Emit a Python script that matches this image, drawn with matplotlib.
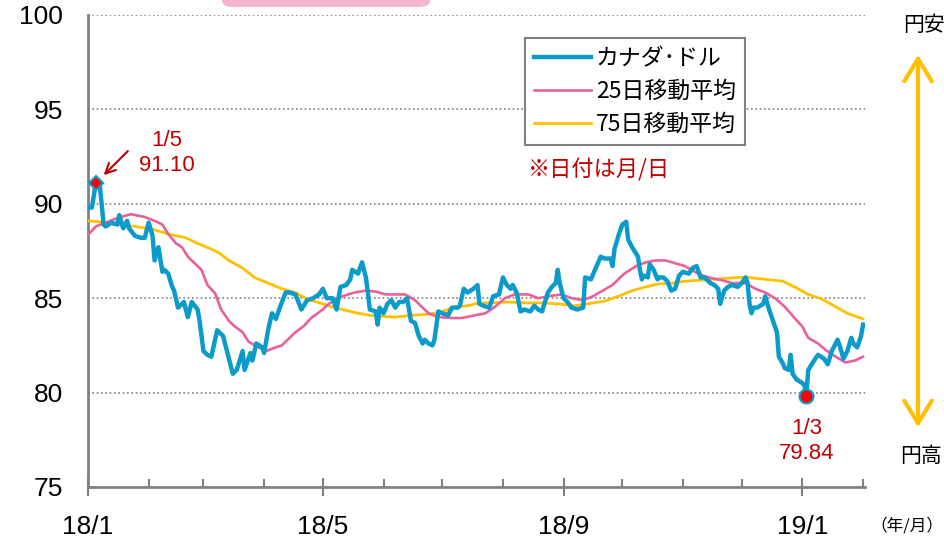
import numpy as np
import pandas as pd
import matplotlib
matplotlib.use("Agg")
import matplotlib.pyplot as plt
import matplotlib.dates as mdates
from matplotlib.patches import FancyArrowPatch, FancyBboxPatch

plt.rcParams['font.family'] = ['Liberation Sans', 'Noto Sans CJK JP']

# カナダ・ドル (円/カナダドル)
price_dates = [
    "2018-01-01", "2018-01-03", "2018-01-05", "2018-01-07", "2018-01-09", "2018-01-10",
    "2018-01-13", "2018-01-16", "2018-01-17", "2018-01-19", "2018-01-21", "2018-01-22",
    "2018-01-25", "2018-01-28", "2018-01-30", "2018-02-01", "2018-02-03", "2018-02-04",
    "2018-02-06", "2018-02-08", "2018-02-09", "2018-02-11", "2018-02-13", "2018-02-14",
    "2018-02-16", "2018-02-19", "2018-02-21", "2018-02-23", "2018-02-26", "2018-02-27",
    "2018-03-01", "2018-03-03", "2018-03-05", "2018-03-08", "2018-03-11", "2018-03-13",
    "2018-03-16", "2018-03-18", "2018-03-21", "2018-03-22", "2018-03-25", "2018-03-26",
    "2018-03-28", "2018-03-31", "2018-04-01", "2018-04-03", "2018-04-05", "2018-04-07",
    "2018-04-09", "2018-04-12", "2018-04-14", "2018-04-17", "2018-04-20", "2018-04-23",
    "2018-04-26", "2018-04-29", "2018-05-01", "2018-05-03", "2018-05-06", "2018-05-08",
    "2018-05-10", "2018-05-13", "2018-05-15", "2018-05-16", "2018-05-19", "2018-05-21",
    "2018-05-23", "2018-05-24", "2018-05-25", "2018-05-28", "2018-05-29", "2018-05-30",
    "2018-06-01", "2018-06-03", "2018-06-05", "2018-06-07", "2018-06-09", "2018-06-11",
    "2018-06-13", "2018-06-15", "2018-06-17", "2018-06-19", "2018-06-21", "2018-06-22",
    "2018-06-24", "2018-06-26", "2018-06-27", "2018-06-29", "2018-07-01", "2018-07-04",
    "2018-07-06", "2018-07-09", "2018-07-10", "2018-07-12", "2018-07-14", "2018-07-17",
    "2018-07-19", "2018-07-20", "2018-07-22", "2018-07-25", "2018-07-27", "2018-07-30",
    "2018-08-01", "2018-08-03", "2018-08-05", "2018-08-06", "2018-08-08", "2018-08-10",
    "2018-08-12", "2018-08-15", "2018-08-17", "2018-08-19", "2018-08-21", "2018-08-24",
    "2018-08-26", "2018-08-28", "2018-08-29", "2018-08-30", "2018-09-01", "2018-09-03",
    "2018-09-05", "2018-09-08", "2018-09-11", "2018-09-12", "2018-09-15", "2018-09-17",
    "2018-09-20", "2018-09-22", "2018-09-25", "2018-09-26", "2018-09-27", "2018-09-29",
    "2018-10-01", "2018-10-03", "2018-10-04", "2018-10-06", "2018-10-09", "2018-10-10",
    "2018-10-11", "2018-10-12", "2018-10-14", "2018-10-15", "2018-10-17", "2018-10-19",
    "2018-10-20", "2018-10-22", "2018-10-24", "2018-10-26", "2018-10-28", "2018-10-30",
    "2018-11-01", "2018-11-04", "2018-11-06", "2018-11-08", "2018-11-10", "2018-11-12",
    "2018-11-15", "2018-11-17", "2018-11-19", "2018-11-20", "2018-11-22", "2018-11-24",
    "2018-11-26", "2018-11-29", "2018-12-01", "2018-12-03", "2018-12-04", "2018-12-05",
    "2018-12-06", "2018-12-07", "2018-12-09", "2018-12-12", "2018-12-13", "2018-12-15",
    "2018-12-17", "2018-12-19", "2018-12-20", "2018-12-22", "2018-12-23", "2018-12-25",
    "2018-12-26", "2018-12-27", "2018-12-29", "2019-01-01", "2019-01-02", "2019-01-03",
    "2019-01-04", "2019-01-07", "2019-01-09", "2019-01-12", "2019-01-14", "2019-01-16",
    "2019-01-19", "2019-01-20", "2019-01-22", "2019-01-24", "2019-01-26", "2019-01-27",
    "2019-01-29", "2019-01-31", "2019-02-01",
]
price_values = [
    89.8, 89.8, 91.10, 91.0, 88.9, 88.8,
    89.0, 88.9, 89.4, 88.7, 89.1, 88.7,
    88.3, 88.2, 88.2, 89.0, 88.3, 87.0,
    87.7, 86.4, 86.5, 86.3, 85.6, 85.4,
    84.5, 84.8, 84.0, 84.8, 84.4, 83.8,
    82.2, 82.0, 81.9, 83.3, 83.0, 82.2,
    81.0, 81.2, 82.2, 81.2, 82.1, 81.7,
    82.6, 82.4, 82.1, 83.3, 84.2, 83.9,
    84.5, 85.3, 85.3, 85.2, 84.4, 84.9,
    85.0, 85.2, 85.5, 85.0, 85.0, 84.4,
    85.6, 85.7, 86.0, 86.5, 86.3, 86.9,
    86.1, 85.3, 84.4, 84.3, 83.6, 84.5,
    84.2, 84.7, 84.9, 84.5, 84.8, 84.8,
    85.0, 83.8, 83.7, 83.0, 82.6, 82.8,
    82.6, 82.5, 82.8, 84.3, 84.2, 84.1,
    84.5, 84.5, 84.6, 85.5, 85.3, 85.5,
    85.7, 84.7, 84.6, 84.5, 85.1, 85.2,
    86.1, 85.7, 85.5, 85.7, 85.3, 84.3,
    84.4, 84.3, 84.6, 84.4, 84.3, 85.3,
    85.6, 85.8, 86.5, 85.8, 85.0, 84.8,
    84.5, 84.4, 84.5, 86.1, 86.0, 86.5,
    87.2, 87.1, 87.1, 86.7, 87.6, 88.3,
    88.9, 89.05, 88.1, 87.7, 87.2, 86.5,
    86.0, 86.2, 86.1, 86.8, 86.5, 86.0,
    86.1, 86.1, 85.9, 85.4, 85.5, 86.2,
    86.4, 86.3, 86.6, 86.7, 86.1, 86.1,
    85.8, 85.7, 85.5, 84.7, 85.4, 85.6,
    85.7, 85.6, 85.8, 86.1, 85.8, 84.7,
    84.2, 84.5, 84.5, 84.7, 85.1, 84.4,
    83.8, 83.2, 81.9, 81.55, 81.3, 81.2,
    82.0, 81.0, 80.7, 80.5, 80.4, 79.84,
    81.2, 81.7, 82.0, 81.8, 81.5, 82.2,
    82.8, 82.5, 81.8, 82.2, 82.9, 82.6,
    82.4, 83.0, 83.6,
]

# 25日移動平均
ma25_dates = [
    "2018-01-01", "2018-01-05", "2018-01-10", "2018-01-16", "2018-01-23", "2018-01-30",
    "2018-02-04", "2018-02-08", "2018-02-11", "2018-02-15", "2018-02-18", "2018-02-21",
    "2018-02-25", "2018-02-28", "2018-03-03", "2018-03-07", "2018-03-10", "2018-03-14",
    "2018-03-17", "2018-03-21", "2018-03-24", "2018-03-29", "2018-04-02", "2018-04-07",
    "2018-04-10", "2018-04-13", "2018-04-17", "2018-04-21", "2018-04-25", "2018-05-01",
    "2018-05-04", "2018-05-07", "2018-05-11", "2018-05-17", "2018-05-23", "2018-05-28",
    "2018-06-02", "2018-06-07", "2018-06-12", "2018-06-17", "2018-06-21", "2018-06-24",
    "2018-06-29", "2018-07-06", "2018-07-11", "2018-07-18", "2018-07-23", "2018-07-28",
    "2018-08-02", "2018-08-07", "2018-08-14", "2018-08-19", "2018-08-24", "2018-08-31",
    "2018-09-05", "2018-09-11", "2018-09-16", "2018-09-21", "2018-09-26", "2018-10-02",
    "2018-10-08", "2018-10-13", "2018-10-18", "2018-10-23", "2018-10-28", "2018-11-02",
    "2018-11-07", "2018-11-11", "2018-11-16", "2018-11-21", "2018-11-26", "2018-12-03",
    "2018-12-08", "2018-12-13", "2018-12-18", "2018-12-23", "2018-12-28", "2019-01-01",
    "2019-01-04", "2019-01-09", "2019-01-13", "2019-01-18", "2019-01-23", "2019-01-28",
    "2019-02-01",
]
ma25_values = [
    88.35, 88.8, 89.0, 89.25, 89.45, 89.3,
    89.1, 88.9, 88.4, 87.9, 87.7, 87.2,
    86.8, 86.5, 85.7, 85.25, 84.4, 83.8,
    83.5, 83.2, 82.7, 82.4, 82.2, 82.4,
    82.5, 82.8, 83.2, 83.5, 83.95, 84.4,
    84.7, 84.9, 85.1, 85.3, 85.4, 85.35,
    85.2, 85.2, 85.2, 84.9, 84.5, 84.2,
    84.0, 83.95, 83.95, 84.1, 84.2, 84.55,
    85.0, 85.2, 85.2, 85.0, 85.1, 85.2,
    85.0, 84.9, 85.1, 85.4, 85.7, 86.3,
    86.7, 86.9, 87.0, 87.0, 86.85, 86.7,
    86.4, 86.2, 86.05, 85.95, 85.8, 85.8,
    85.5, 85.3, 85.0, 84.55, 83.95, 83.5,
    82.9, 82.6, 82.25, 81.9, 81.6, 81.7,
    81.9,
]

# 75日移動平均
ma75_dates = [
    "2018-01-01", "2018-01-06", "2018-01-16", "2018-01-25", "2018-02-03", "2018-02-11",
    "2018-02-20", "2018-02-26", "2018-03-05", "2018-03-09", "2018-03-14", "2018-03-21",
    "2018-03-27", "2018-04-03", "2018-04-10", "2018-04-17", "2018-04-23", "2018-05-01",
    "2018-05-07", "2018-05-15", "2018-05-19", "2018-05-28", "2018-06-07", "2018-06-16",
    "2018-06-24", "2018-07-01", "2018-07-08", "2018-07-14", "2018-07-20", "2018-07-26",
    "2018-08-04", "2018-08-12", "2018-08-21", "2018-08-29", "2018-09-07", "2018-09-16",
    "2018-09-22", "2018-09-29", "2018-10-06", "2018-10-13", "2018-10-19", "2018-10-27",
    "2018-11-02", "2018-11-09", "2018-11-16", "2018-11-23", "2018-11-30", "2018-12-04",
    "2018-12-13", "2018-12-22", "2018-12-28", "2019-01-04", "2019-01-11", "2019-01-18",
    "2019-01-24", "2019-02-01",
]
ma75_values = [
    89.1, 89.05, 88.9, 88.8, 88.65, 88.4,
    88.2, 87.9, 87.6, 87.4, 87.0, 86.6,
    86.1, 85.8, 85.5, 85.3, 84.95, 84.7,
    84.5, 84.3, 84.2, 84.05, 84.0, 84.1,
    84.15, 84.3, 84.55, 84.6, 84.75, 84.75,
    84.8, 84.75, 84.75, 84.7, 84.6, 84.75,
    84.85, 85.1, 85.4, 85.6, 85.75, 85.8,
    85.9, 85.95, 86.0, 86.05, 86.1, 86.1,
    86.0, 85.9, 85.6, 85.2, 84.95, 84.55,
    84.2, 83.9,
]

series_labels = ["カナダ･ドル", "25日移動平均", "75日移動平均"]
series_colors = ["#0A9BCB", "#E9609B", "#FFC000"]

high_date, high_value, high_label = "2018-01-05", 91.10, "1/5\n91.10"
low_date, low_value, low_label = "2019-01-03", 79.84, "1/3\n79.84"

xtick_dates = ["2018-01-01", "2018-05-01", "2018-09-01", "2019-01-01"]
xtick_labels = ["18/1", "18/5", "18/9", "19/1"]
yticks = [75, 80, 85, 90, 95, 100]

red = "#C00000"
gray = "#808080"
cjk = ["Noto Sans CJK JP", "DejaVu Sans"]

fig = plt.figure(figsize=(9.44, 5.44), dpi=100)
ax = fig.add_axes([88 / 944, 1 - 487 / 544, 777 / 944, 472 / 544])

ax.plot(pd.to_datetime(ma75_dates), ma75_values, color=series_colors[2], lw=2.0,
        label=series_labels[2], zorder=3)
ax.plot(pd.to_datetime(ma25_dates), ma25_values, color=series_colors[1], lw=1.9,
        label=series_labels[1], zorder=4)
ax.plot(pd.to_datetime(price_dates), price_values, color=series_colors[0], lw=3.2,
        label=series_labels[0], zorder=5, solid_joinstyle="round")

# high / low markers
ax.plot(pd.Timestamp(high_date), high_value, marker="D", ms=7, mfc="red",
        mec=series_colors[0], mew=1.5, zorder=6)
ax.plot(pd.Timestamp(low_date), low_value, marker="o", ms=10, mfc="red",
        mec=series_colors[0], mew=1.5, zorder=6)

ax.annotate(high_label, xy=(pd.Timestamp(high_date), high_value), xytext=(71, 30),
            textcoords="offset pixels", ha="center", va="center", color=red,
            fontsize=16, linespacing=1.25)
ax.annotate("", xy=(pd.Timestamp(high_date), high_value), xytext=(32, 32),
            textcoords="offset pixels",
            arrowprops=dict(arrowstyle="->", color=red, lw=1.5,
                            shrinkA=0, shrinkB=8, mutation_scale=18))
ax.annotate(low_label, xy=(pd.Timestamp(low_date), low_value), xytext=(0, -45),
            textcoords="offset pixels", ha="center", va="center", color=red,
            fontsize=16, linespacing=1.25)

ax.set_ylim(75, 100)
ax.set_yticks(yticks)
ax.set_xlim(pd.Timestamp("2018-01-01"), pd.Timestamp("2019-02-02"))
ax.set_xticks(pd.to_datetime(xtick_dates))
ax.set_xticklabels(xtick_labels)
ax.xaxis.set_minor_locator(mdates.MonthLocator())

for y in yticks[1:]:
    ax.axhline(y, color=gray, lw=1.2, ls=(0, (1, 1.6)), zorder=1)

for side in ["top", "right"]:
    ax.spines[side].set_visible(False)
for side in ["left", "bottom"]:
    ax.spines[side].set_color(gray)
    ax.spines[side].set_linewidth(2)

ax.tick_params(axis="y", length=0, pad=18, labelsize=19)
ax.tick_params(axis="x", which="major", direction="inout", length=13, width=1.5,
               color=gray, pad=14, labelsize=19)
ax.tick_params(axis="x", which="minor", direction="in", length=6, width=1.5,
               color=gray)

leg = ax.legend(handles=[ax.lines[2], ax.lines[1], ax.lines[0]],
                loc="upper left", bbox_to_anchor=(0.562, 0.951), borderaxespad=0,
                fancybox=False, edgecolor=gray, framealpha=1,
                prop={"family": cjk, "size": 16.5},
                handlelength=2.5, handletextpad=0.2, labelspacing=0.42,
                borderpad=0.4)
leg.get_frame().set_linewidth(1.5)

ax.text(0.566, 0.672, "※日付は月/日", transform=ax.transAxes, color=red,
        fontsize=16, family=cjk, ha="left", va="center")

# 円安 / 円高 arrow on the right
fig.patches.append(FancyArrowPatch((918 / 944, 1 - 52 / 544), (918 / 944, 1 - 430 / 544),
                                   transform=fig.transFigure,
                                   arrowstyle="<->,head_length=0.9,head_width=0.55",
                                   mutation_scale=18, color="#FFC000", lw=3))
fig.text(903 / 944, 1 - 25 / 544, "円安", fontsize=15, family=cjk, ha="left", va="center")
fig.text(900 / 944, 1 - 456 / 544, "円高", fontsize=15, family=cjk, ha="left", va="center")
fig.text(943 / 944, 1 - 526 / 544, "（年/月）", fontsize=12, family=cjk,
         ha="right", va="center")

# clipped title box at the top
fig.patches.append(FancyBboxPatch((222 / 944, 1 - 7 / 544), 208 / 944, 30 / 544,
                                  boxstyle="round,pad=0,rounding_size=0.012",
                                  transform=fig.transFigure, facecolor="#F4B5CE",
                                  edgecolor="none"))

fig.savefig("out.png", dpi=100)
